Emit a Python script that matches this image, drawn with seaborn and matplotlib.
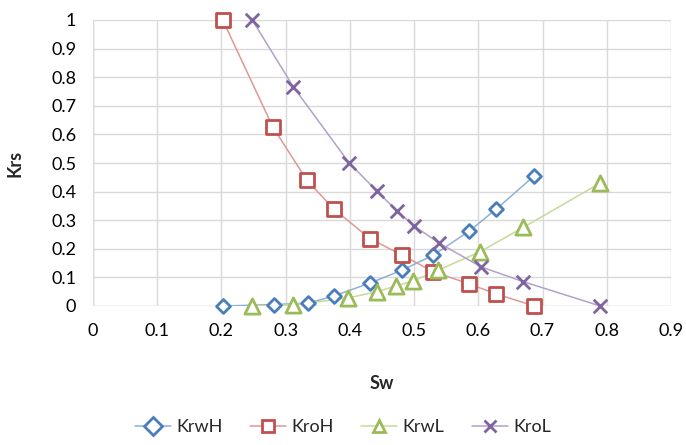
import numpy as np
import pandas as pd
import matplotlib
matplotlib.use("Agg")
import matplotlib.pyplot as plt
from matplotlib.lines import Line2D
import seaborn as sns

# values
sw_krwh = [0.202, 0.282, 0.335, 0.375, 0.431, 0.481, 0.530, 0.586, 0.628, 0.687]
krwh = [0.0, 0.005, 0.010, 0.035, 0.080, 0.125, 0.178, 0.262, 0.339, 0.455]

sw_kroh = [0.202, 0.280, 0.333, 0.375, 0.431, 0.481, 0.530, 0.586, 0.628, 0.687]
kroh = [1.0, 0.626, 0.440, 0.339, 0.236, 0.178, 0.120, 0.077, 0.042, 0.0]

sw_krwl = [0.248, 0.312, 0.397, 0.442, 0.472, 0.499, 0.537, 0.603, 0.670, 0.790]
krwl = [0.0, 0.004, 0.028, 0.050, 0.070, 0.088, 0.125, 0.190, 0.275, 0.430]

sw_krol = [0.248, 0.312, 0.399, 0.442, 0.473, 0.500, 0.539, 0.604, 0.670, 0.790]
krol = [1.0, 0.766, 0.500, 0.402, 0.333, 0.280, 0.220, 0.137, 0.085, 0.0]

series = [
    ("KrwH", sw_krwh, krwh, "#4A7EBB", "#8EB0DA", "D", 50),
    ("KroH", sw_kroh, kroh, "#C0504D", "#DE9896", "s", 100),
    ("KrwL", sw_krwl, krwl, "#9BBB59", "#C6DA9C", "^", 120),
    ("KroL", sw_krol, krol, "#7F64A2", "#B2A2C9", "x", 95),
]

sns.set_style("white")
plt.rcParams["font.family"] = ["Lato", "DejaVu Sans"]

fig = plt.figure(figsize=(6.86, 4.45), dpi=100)
ax = fig.add_axes([93 / 686, 1 - 306 / 445, 578 / 686, 286 / 445])

handles = []
for name, xs, ys, mcol, lcol, mk, size in series:
    df = pd.DataFrame({"Sw": xs, "Krs": ys})
    sns.lineplot(data=df, x="Sw", y="Krs", sort=False, color=lcol, lw=1.1, ax=ax, zorder=2)
    if mk == "x":
        sns.scatterplot(data=df, x="Sw", y="Krs", marker="x", s=size, color=mcol,
                        linewidth=2, ax=ax, zorder=3, clip_on=False)
    else:
        sns.scatterplot(data=df, x="Sw", y="Krs", marker=mk, s=size, facecolor="white",
                        edgecolor=mcol, linewidth=2, ax=ax, zorder=3, clip_on=False)
    handles.append(Line2D([], [], color=lcol, lw=1.1, marker=mk, markersize=9,
                          markerfacecolor="white" if mk != "x" else mcol,
                          markeredgecolor=mcol, markeredgewidth=2, label=name))

ax.set_xlim(0, 0.9)
ax.set_ylim(0, 1)
ax.set_xticks(np.arange(0, 0.91, 0.1))
ax.set_yticks(np.arange(0, 1.01, 0.1))
ax.set_xticklabels(["0", "0.1", "0.2", "0.3", "0.4", "0.5", "0.6", "0.7", "0.8", "0.9"])
ax.set_yticklabels(["0", "0.1", "0.2", "0.3", "0.4", "0.5", "0.6", "0.7", "0.8", "0.9", "1"])
ax.grid(True, color="#D9D9D9", lw=1)
for sp in ax.spines.values():
    sp.set_visible(False)
ax.axvline(0, color="#D9D9D9", lw=1, zorder=1)
ax.axhline(0, color="#D9D9D9", lw=1, zorder=1)
ax.tick_params(length=0, labelsize=13, colors="#000000", pad=12)
ax.set_xlabel("Sw", fontsize=13, fontweight="bold", labelpad=26)
ax.set_ylabel("Krs", fontsize=13, fontweight="bold", labelpad=20)

fig.legend(handles=handles, loc="lower center", ncol=4, frameon=False, fontsize=13,
           bbox_to_anchor=(0.5, -0.015), handlelength=2.0, columnspacing=1.5, handletextpad=0.3)

fig.savefig("out.png", dpi=100)
